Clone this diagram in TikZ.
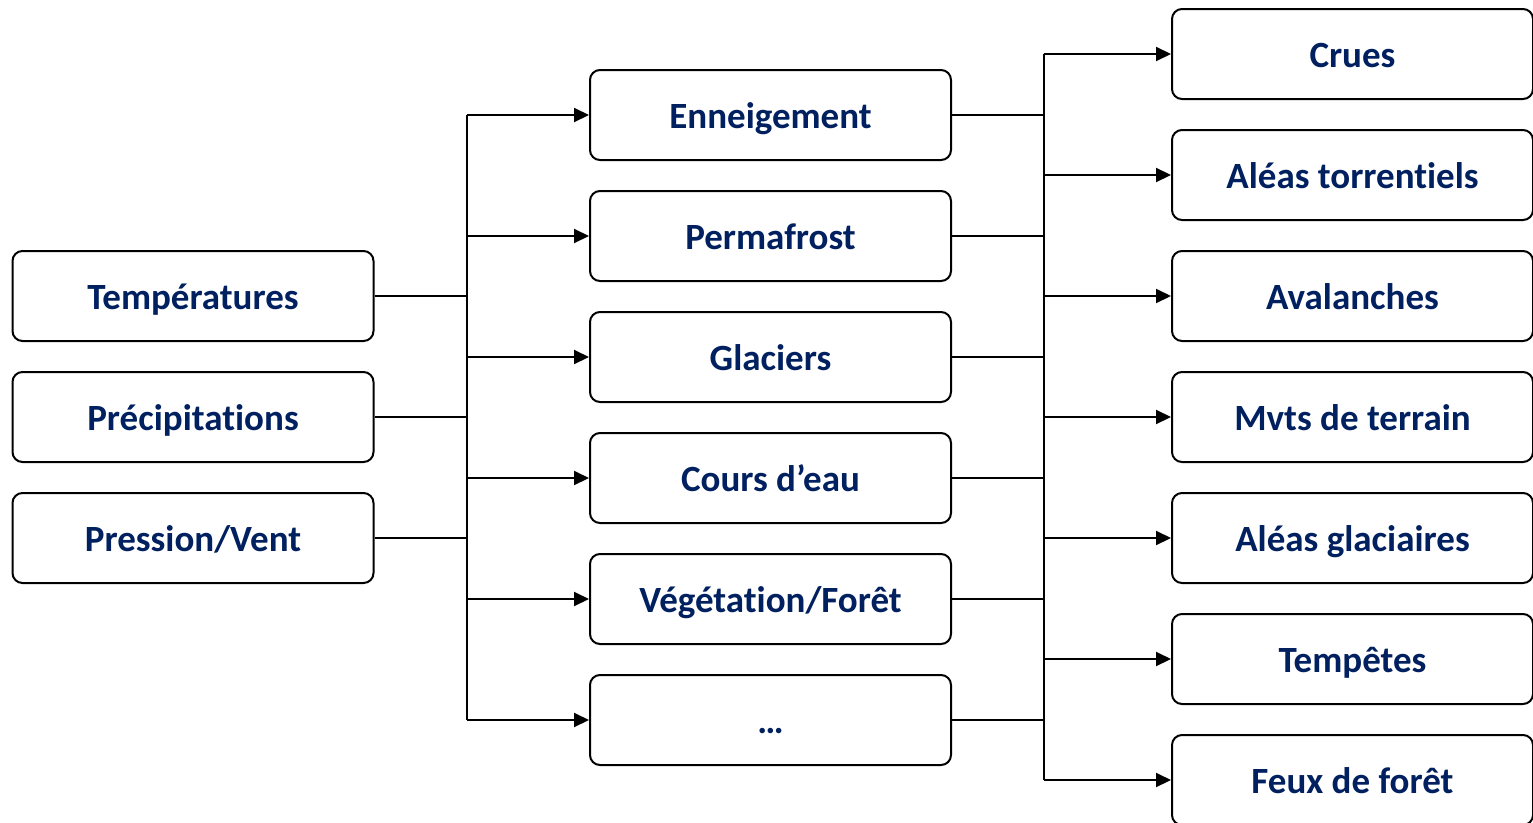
\documentclass[tikz,border=0pt]{standalone}
\usepackage{fontspec}
\setmainfont{Carlito}[Ligatures={NoCommon}]
\usetikzlibrary{arrows.meta}
\definecolor{navy}{RGB}{0,32,96}
\begin{document}
\begin{tikzpicture}[x=1pt,y=-1pt,
  box/.style={draw=black,line width=2pt,rounded corners=10pt,fill=white,
    minimum width=361pt,minimum height=90pt,inner sep=0pt,
    text=navy,font=\fontsize{37}{44}\selectfont\bfseries,
    text height=27pt,text depth=0pt,anchor=center},
  conn/.style={line width=2pt,black},
  arr/.style={conn,-{Triangle[length=15pt,width=14pt]}}]
\useasboundingbox (0,0) rectangle (1533,822);
\clip (0,0) rectangle (1533,822);
% left column
\node[box] (L1) at (193,296) {Températures};
\node[box] (L2) at (193,417) {Précipitations};
\node[box] (L3) at (193,538) {Pression/Vent};
% middle column
\node[box] (M1) at (770.5,115) {Enneigement};
\node[box] (M2) at (770.5,236) {Permafrost};
\node[box] (M3) at (770.5,357) {Glaciers};
\node[box] (M4) at (770.5,478) {Cours d’eau};
\node[box] (M5) at (770.5,599) {Végétation/Forêt};
\node[box] (M6) at (770.5,720) {…};
% right column
\node[box] (R1) at (1352.5,54) {Crues};
\node[box] (R2) at (1352.5,175) {Aléas torrentiels};
\node[box] (R3) at (1352.5,296) {Avalanches};
\node[box] (R4) at (1352.5,417) {Mvts de terrain};
\node[box] (R5) at (1352.5,538) {Aléas glaciaires};
\node[box] (R6) at (1352.5,659) {Tempêtes};
\node[box] (R7) at (1352.5,780) {Feux de forêt};
% buses
\coordinate (ba) at (467,115);
\coordinate (bb) at (467,720);
\coordinate (ca) at (1044,54);
\coordinate (cb) at (1044,780);
\draw[conn] (ba) -- (bb);
\draw[conn] (ca) -- (cb);
\foreach \n in {L1,L2,L3} \draw[conn] (\n.east) -- (\n.east -| ba);
\foreach \n in {M1,M2,M3,M4,M5,M6} {
  \draw[arr] (\n.west -| ba) -- (\n.west);
  \draw[conn] (\n.east) -- (\n.east -| ca);
}
\foreach \n in {R1,R2,R3,R4,R5,R6,R7} \draw[arr] (\n.west -| ca) -- (\n.west);
\end{tikzpicture}
\end{document}
